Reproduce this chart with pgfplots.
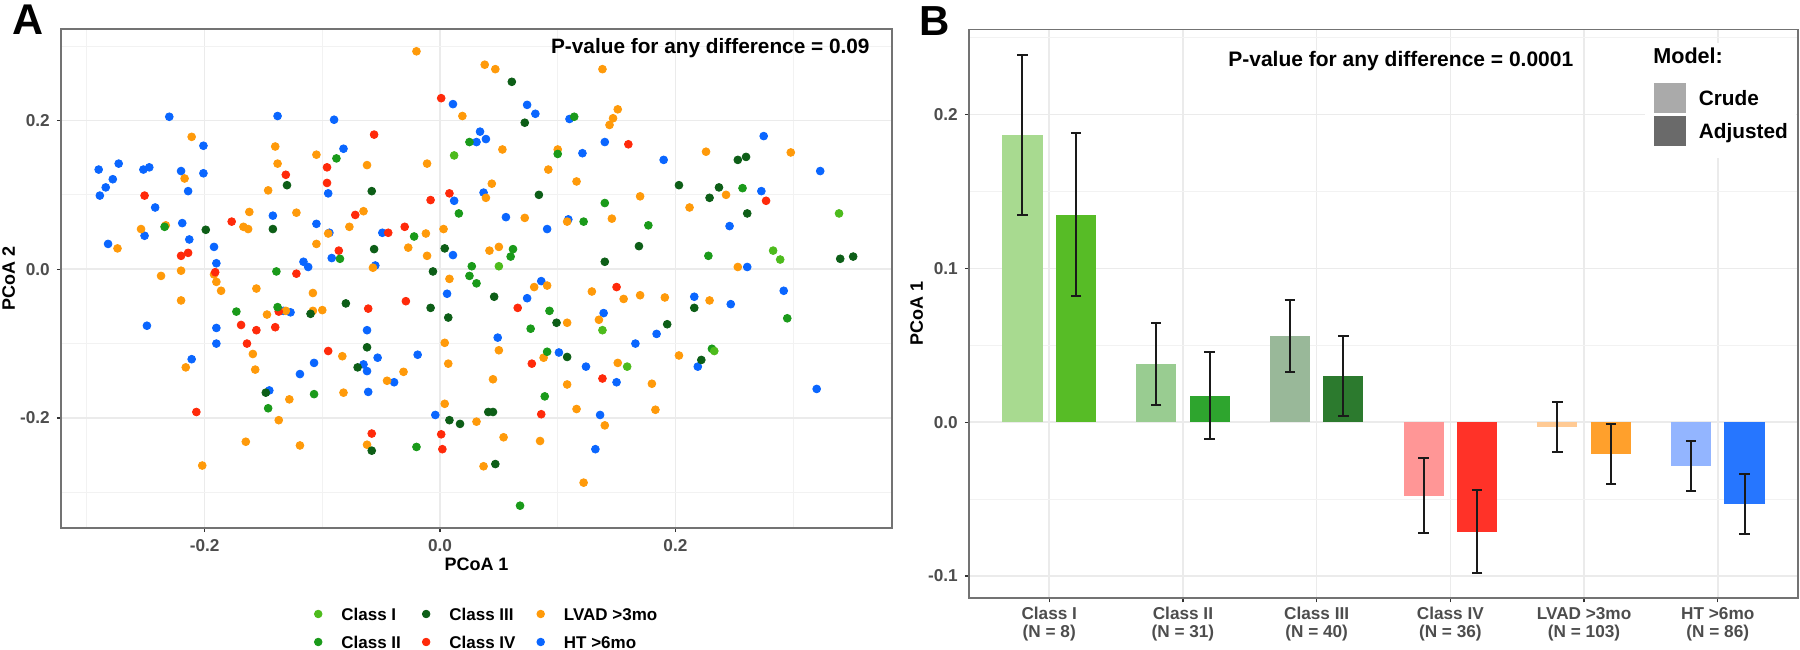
\documentclass[border=0pt]{standalone}
\usepackage{fontspec}
\setmainfont{Liberation Sans}
\usepackage{pgfplots}
\pgfplotsset{compat=1.18}

% scatter colours
\definecolor{cI}{HTML}{4DBB1C}
\definecolor{cII}{HTML}{1A9A1A}
\definecolor{cIII}{HTML}{0D5E17}
\definecolor{cIV}{HTML}{FF2A0A}
\definecolor{cLV}{HTML}{FF9A0A}
\definecolor{cHT}{HTML}{0A66FF}
% bar colours
\definecolor{bIa}{HTML}{A8DA90}\definecolor{bIb}{HTML}{57BC26}
\definecolor{bIIa}{HTML}{99CC91}\definecolor{bIIb}{HTML}{2EA52E}
\definecolor{bIIIa}{HTML}{99B899}\definecolor{bIIIb}{HTML}{2C7A2E}
\definecolor{bIVa}{HTML}{FF9696}\definecolor{bIVb}{HTML}{FF3228}
\definecolor{bLVa}{HTML}{FFCA94}\definecolor{bLVb}{HTML}{FFA02C}
\definecolor{bHTa}{HTML}{93B5FF}\definecolor{bHTb}{HTML}{2676FF}
\definecolor{keyA}{HTML}{AAAAAA}\definecolor{keyB}{HTML}{6A6A6A}
\definecolor{tickgrey}{HTML}{4D4D4D}
\definecolor{errc}{HTML}{1A1A1A}

\pgfplotsset{
  ggbase/.style={
    scale only axis,
    axis line style={draw=black!55, line width=0.7pt},
    tick style={draw=black!80, line width=0.6pt},
    tick align=outside, tick pos=left,
    major tick length=2.1pt, minor tick length=0pt,
    grid=both,
    major grid style={draw=black!8, line width=0.75pt},
    minor grid style={draw=black!5, line width=0.4pt},
    /pgf/number format/assume math mode=true,
    tick label style={font=\bfseries\fontsize{8.6}{9}\selectfont, text=tickgrey},
    label style={font=\bfseries\fontsize{9}{10}\selectfont},
  },
  pts/.style={only marks, mark=*, mark size=1.95pt, forget plot},
  dotkey/.style={legend image code/.code={\fill[##1] (0pt,0pt) circle (1.9pt);}},
  squarekey/.style={legend image code/.code={\fill[##1] (0pt,-7.35pt) rectangle (15.5pt,7.35pt);}},
  bar/.style={ybar, bar width=0.3, bar shift=0pt, draw=none, forget plot},
}

\begin{document}
\begin{tikzpicture}
\useasboundingbox (0,0) rectangle (900pt,324.5pt);

% ---------------- Panel A ----------------
\begin{axis}[ggbase,
  at={(30.5pt,60.5pt)}, anchor=south west,
  width=415.5pt, height=249.5pt,
  xmin=-0.322, xmax=0.384, ymin=-0.348, ymax=0.323,
  xtick={-0.2,0,0.2}, xticklabels={-0.2,0.0,0.2},
  ytick={-0.2,0,0.2}, yticklabels={-0.2,0.0,0.2},
  minor xtick={-0.3,-0.1,0.1,0.3}, minor ytick={-0.3,-0.1,0.1,0.3},
  xlabel={PCoA 1}, ylabel={PCoA 2},
  xlabel style={at={(axis description cs:0.5,-0.0855)}, anchor=base},
  ylabel style={at={(axis description cs:-0.063,0.5)}, anchor=center},
  legend columns=3,
  legend cell align=left,
  legend style={at={(axis description cs:0.511,-0.2004)}, anchor=center,
    draw=none, fill=none, inner sep=0pt, outer sep=0pt,
    font=\bfseries\fontsize{8.5}{9}\selectfont,
    nodes={inner sep=0pt, text height=6.1pt, text depth=0pt},
    row sep=7.9pt,
    /tikz/every odd column/.append style={column sep=9.5pt},
    /tikz/every even column/.append style={column sep=10.5pt}},
]
% HT >6mo
\addplot[pts, color=cHT] coordinates {
(-0.230,0.205) (-0.138,0.206) (-0.090,0.201) (-0.201,0.166) (-0.082,0.162) (-0.290,0.134) (-0.273,0.142) (-0.278,0.121) (-0.284,0.110) (-0.289,0.099) (-0.252,0.134) (-0.247,0.137) (-0.220,0.132) (-0.201,0.129) (-0.214,0.105) (-0.095,0.102) (-0.242,0.083) (-0.142,0.072) (-0.219,0.062) (-0.105,0.061) (-0.094,0.049) (-0.049,0.049) (-0.251,0.045) (-0.213,0.040) (-0.282,0.034) (-0.192,0.030) (-0.190,0.008) (-0.116,0.010) (-0.112,0.003) (-0.092,0.015) (-0.055,0.005)
(0.011,0.222) (0.074,0.221) (0.081,0.209) (0.110,0.202) (0.034,0.185) (0.031,0.171) (0.039,0.175) (0.140,0.171) (0.121,0.156) (0.190,0.147) (0.275,0.179) (0.323,0.132) (0.037,0.103) (0.012,0.092) (0.273,0.105) (0.056,0.070) (0.091,0.054) (0.109,0.067) (0.246,0.058) (0.011,0.019) (0.261,0.003)
(-0.249,-0.076) (-0.190,-0.079) (-0.190,-0.100) (-0.211,-0.121) (-0.133,-0.056) (-0.127,-0.058) (-0.145,-0.163) (-0.119,-0.141) (-0.107,-0.126) (-0.062,-0.082) (-0.065,-0.128) (-0.062,-0.137) (-0.053,-0.119) (-0.061,-0.165) (-0.039,-0.152) (-0.019,-0.115) (-0.004,-0.196)
(0.006,-0.033) (0.086,-0.016) (0.074,-0.039) (0.216,-0.037) (0.247,-0.047) (0.292,-0.029) (0.139,-0.059) (0.049,-0.092) (0.101,-0.112) (0.166,-0.100) (0.184,-0.087) (0.124,-0.131) (0.150,-0.152) (0.219,-0.131) (0.320,-0.161) (0.136,-0.196) (0.132,-0.242)
};
% LVAD >3mo
\addplot[pts, color=cLV] coordinates {
(-0.020,0.293) (-0.211,0.178) (-0.140,0.165) (-0.105,0.154) (-0.138,0.142) (-0.062,0.140) (-0.011,0.142) (-0.217,0.122) (-0.146,0.106) (-0.162,0.077) (-0.122,0.076) (-0.065,0.078) (-0.254,0.054) (-0.233,0.059) (-0.167,0.057) (-0.163,0.054) (-0.077,0.057) (-0.095,0.048) (-0.012,0.048) (-0.105,0.034) (-0.027,0.029) (-0.274,0.028) (-0.011,0.018) (-0.057,0.002) (-0.237,-0.009) (-0.220,-0.002) (-0.192,-0.007)
(0.038,0.275) (0.047,0.269) (0.138,0.269) (0.019,0.206) (0.151,0.215) (0.147,0.203) (0.144,0.194) (0.053,0.161) (0.100,0.161) (0.226,0.158) (0.298,0.157) (0.092,0.134) (0.044,0.115) (0.116,0.118) (0.039,0.096) (0.170,0.098) (0.212,0.083) (0.243,0.100) (0.072,0.069) (0.108,0.064) (0.146,0.068) (0.003,0.054) (0.042,0.025) (0.050,0.030) (0.253,0.003) (0.008,-0.013)
(-0.190,-0.017) (-0.186,-0.029) (-0.156,-0.026) (-0.108,-0.032) (-0.220,-0.042) (-0.147,-0.061) (-0.131,-0.056) (-0.108,-0.056) (-0.100,-0.055) (-0.159,-0.114) (-0.157,-0.135) (-0.216,-0.132) (-0.128,-0.175) (-0.082,-0.166) (-0.137,-0.203) (-0.083,-0.117) (-0.045,-0.150) (-0.031,-0.138) (-0.165,-0.232) (-0.119,-0.237) (-0.062,-0.236) (-0.202,-0.264)
(0.080,-0.024) (0.091,-0.022) (0.129,-0.030) (0.156,-0.040) (0.170,-0.035) (0.191,-0.038) (0.229,-0.042) (0.108,-0.072) (0.135,-0.068) (0.004,-0.099) (0.050,-0.109) (0.088,-0.119) (0.151,-0.126) (0.203,-0.116) (0.007,-0.127) (0.045,-0.148) (0.108,-0.155) (0.180,-0.154) (0.004,-0.181) (0.116,-0.188) (0.183,-0.189) (0.031,-0.205) (0.140,-0.210) (0.054,-0.226) (0.085,-0.231) (0.037,-0.265) (0.122,-0.287)
};
% Class IV
\addplot[pts, color=cIV] coordinates {
(-0.056,0.181) (-0.131,0.127) (-0.096,0.137) (-0.096,0.116) (-0.251,0.099) (-0.008,0.093) (-0.072,0.073) (-0.177,0.064) (-0.030,0.057) (-0.044,0.049) (-0.086,0.025) (-0.220,0.018) (-0.214,0.022) (-0.191,-0.004) (-0.122,-0.006)
(0.001,0.230) (0.160,0.168) (0.008,0.102) (0.277,0.092)
(-0.169,-0.075) (-0.156,-0.082) (-0.140,-0.078) (-0.164,-0.100) (-0.137,-0.057) (-0.061,-0.053) (-0.029,-0.043) (-0.095,-0.110) (-0.207,-0.192) (-0.058,-0.221)
(0.150,-0.024) (0.066,-0.052) (0.078,-0.127) (0.138,-0.147) (0.086,-0.195) (0.001,-0.222) (0.002,-0.242)
};
% Class III
\addplot[pts, color=cIII] coordinates {
(-0.130,0.113) (-0.058,0.105) (-0.199,0.053) (-0.142,0.054) (-0.056,0.027) (-0.006,-0.003)
(0.061,0.252) (0.072,0.197) (0.084,0.100) (0.203,0.113) (0.229,0.096) (0.237,0.110) (0.253,0.147) (0.260,0.151) (0.261,0.075) (0.169,0.031) (0.140,0.010) (0.340,0.014) (0.351,0.017) (0.004,0.028)
(-0.080,-0.046) (-0.008,-0.052) (-0.110,-0.060) (-0.062,-0.105) (-0.070,-0.132) (-0.148,-0.166) (-0.058,-0.244)
(0.046,-0.037) (0.007,-0.065) (0.099,-0.072) (0.193,-0.074) (0.216,-0.052) (0.108,-0.118) (0.222,-0.122) (0.008,-0.203) (0.017,-0.208) (0.041,-0.192) (0.045,-0.192) (0.047,-0.262)
};
% Class II
\addplot[pts, color=cII] coordinates {
(-0.088,0.149) (-0.139,-0.003) (-0.085,0.014) (-0.234,0.057) (-0.022,0.044)
(0.025,0.171) (0.114,0.205) (0.100,0.155) (0.140,0.089) (0.016,0.075) (0.122,0.064) (0.177,0.059) (0.062,0.027) (0.060,0.017) (0.027,0.004) (0.228,0.018) (0.257,0.109) (0.025,-0.009)
(-0.173,-0.057) (-0.138,-0.051) (-0.146,-0.187) (-0.107,-0.168) (-0.020,-0.239)
(0.031,-0.019) (0.093,-0.056) (0.077,-0.080) (0.091,-0.111) (0.089,-0.171) (0.231,-0.107) (0.068,-0.318) (0.295,-0.066)
};
% Class I
\addplot[pts, color=cI] coordinates {
(0.012,0.153) (0.050,0.004) (0.339,0.075) (0.283,0.025) (0.289,0.013) (0.138,-0.082) (0.159,-0.131) (0.233,-0.110)
};
\addlegendimage{dotkey, cI}\addlegendentry{Class I}
\addlegendimage{dotkey, cIII}\addlegendentry{Class III}
\addlegendimage{dotkey, cLV}\addlegendentry{LVAD >3mo}
\addlegendimage{dotkey, cII}\addlegendentry{Class II}
\addlegendimage{dotkey, cIV}\addlegendentry{Class IV}
\addlegendimage{dotkey, cHT}\addlegendentry{HT >6mo}
\node[anchor=base east, inner sep=0pt, font=\bfseries\fontsize{10.4}{12}\selectfont]
  at (axis description cs:0.9735,0.951) {P-value for any difference = 0.09};
\end{axis}

% ---------------- Panel B ----------------
\begin{axis}[ggbase,
  at={(484.5pt,25.45pt)}, anchor=south west,
  width=414.5pt, height=284.15pt,
  xmin=0.4, xmax=6.6, ymin=-0.1144, ymax=0.2551,
  xtick={1,2,3,4,5,6},
  xticklabels={{Class I\\(N = 8)},{Class II\\(N = 31)},{Class III\\(N = 40)},{Class IV\\(N = 36)},{LVAD >3mo\\(N = 103)},{HT >6mo\\(N = 86)}},
  xticklabel style={align=center, font=\bfseries\fontsize{8.6}{9}\selectfont, yshift=1.1pt},
  ytick={-0.1,0,0.1,0.2}, yticklabels={-0.1,0.0,0.1,0.2},
  minor ytick={-0.05,0.05,0.15,0.25},
  minor xtick={},
  ylabel={PCoA 1},
  ylabel style={at={(axis description cs:-0.063,0.5)}, anchor=center},
  legend cell align=left,
  legend style={at={(axis description cs:0.8263,0.907)}, anchor=north west,
    draw=none, fill=none, inner sep=0pt, outer sep=0pt,
    font=\bfseries\fontsize{10.4}{11}\selectfont,
    nodes={inner sep=0pt, text height=7.4pt, text depth=0pt},
    row sep=1.6pt,
    /tikz/every odd column/.append style={column sep=6.5pt}},
]
\fill[white] (axis description cs:0.815,0.775) rectangle (axis description cs:0.9976,0.976);
\addplot[bar, fill=bIa]   coordinates {(0.8,0.187)};
\addplot[bar, fill=bIb]   coordinates {(1.2,0.135)};
\addplot[bar, fill=bIIa]  coordinates {(1.8,0.0377)};
\addplot[bar, fill=bIIb]  coordinates {(2.2,0.0172)};
\addplot[bar, fill=bIIIa] coordinates {(2.8,0.056)};
\addplot[bar, fill=bIIIb] coordinates {(3.2,0.0299)};
\addplot[bar, fill=bIVa]  coordinates {(3.8,-0.0479)};
\addplot[bar, fill=bIVb]  coordinates {(4.2,-0.0711)};
\addplot[bar, fill=bLVa]  coordinates {(4.8,-0.0032)};
\addplot[bar, fill=bLVb]  coordinates {(5.2,-0.0207)};
\addplot[bar, fill=bHTa]  coordinates {(5.8,-0.0283)};
\addplot[bar, fill=bHTb]  coordinates {(6.2,-0.0533)};
% error bars (95% CI)
\addplot[forget plot, draw=none, mark=none,
  error bars/.cd, y dir=both, y explicit,
  error bar style={draw=errc, line width=1pt, solid},
  error mark=|,
  error mark options={draw=errc, line width=1pt, mark size=2.6pt}]
coordinates {
(0.8,0.187)   +- (0,0.052)
(1.2,0.135)   +- (0,0.053)
(1.8,0.0377)  +- (0,0.0265)
(2.2,0.0172)  +- (0,0.0283)
(2.8,0.056)   +- (0,0.0232)
(3.2,0.0299)  +- (0,0.026)
(3.8,-0.0479) +- (0,0.0243)
(4.2,-0.0711) +- (0,0.0271)
(4.8,-0.0032) +- (0,0.0162)
(5.2,-0.0207) +- (0,0.0193)
(5.8,-0.0283) +- (0,0.0163)
(6.2,-0.0533) +- (0,0.0193)
};
\addlegendimage{squarekey, keyA}\addlegendentry{Crude}
\addlegendimage{squarekey, keyB}\addlegendentry{Adjusted}
\node[anchor=base west, inner sep=0pt, font=\bfseries\fontsize{10.8}{12}\selectfont]
  at (axis description cs:0.825,0.941) {Model:};
\node[anchor=base west, inner sep=0pt, font=\bfseries\fontsize{10.5}{12}\selectfont]
  at (axis description cs:0.3124,0.935) {P-value for any difference = 0.0001};
\end{axis}

\node[anchor=base west, inner sep=0pt, font=\bfseries\fontsize{21.5}{24}\selectfont] at (5.85pt,307pt) {A};
\node[anchor=base west, inner sep=0pt, font=\bfseries\fontsize{21}{24}\selectfont] at (459.6pt,306.5pt) {B};
\end{tikzpicture}
\end{document}
